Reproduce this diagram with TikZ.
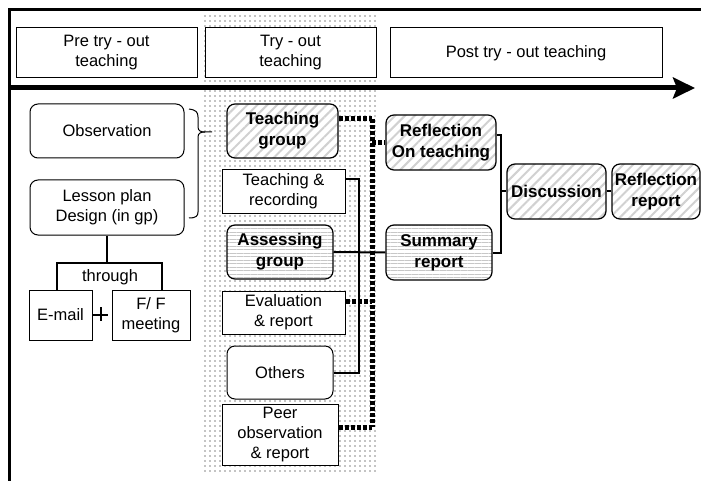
\documentclass[tikz,border=0pt]{standalone}
\usepackage{fontspec}
\setmainfont{Liberation Sans}
\usetikzlibrary{arrows.meta,patterns.meta}
\begin{document}
\begin{tikzpicture}[x=1pt,y=-1pt,
  every node/.style={font=\fontsize{16.5}{20}\selectfont},
  plainbox/.style={draw, line width=1pt, fill=white, inner sep=0pt, align=center},
  roundbox/.style={plainbox, rounded corners=8pt},
  boldtext/.style={font=\fontsize{17}{21}\selectfont\bfseries},
  diagbox/.style={roundbox, boldtext, line width=1.2pt,
    preaction={fill=white},
    pattern={Lines[angle=45,distance=7pt,line width=2pt]}, pattern color=black!18},
  horizbox/.style={roundbox, boldtext, line width=1.2pt,
    preaction={fill=white},
    pattern={Lines[angle=0,distance=3.5pt,line width=1pt]}, pattern color=black!22},
  conn/.style={line width=2pt},
  dotconn/.style={line width=5pt, dash pattern=on 4pt off 2pt},
]
\useasboundingbox (0,0) rectangle (701,481);

% dotted band behind the try-out stage
\fill[pattern={Dots[distance=5pt,radius=0.65pt]}, pattern color=black]
  (203,13) rectangle (378,474);

% outer frame
\draw[line width=3pt] (9,481) -- (9,10) -- (701,10);

% stage headers
\node[plainbox, minimum width=181, minimum height=50] (pre) at (106.5,53) {Pre try - out\\teaching};
\node[plainbox, minimum width=171, minimum height=50] (try) at (290.5,53) {Try - out\\teaching};
\node[plainbox, minimum width=272, minimum height=50] (post) at (526,53) {Post try - out teaching};

% time line
\coordinate (t0) at (9,88);
\coordinate (t1) at (695,88);
\draw[line width=5pt, -{Stealth[length=22pt,width=21pt,inset=4pt]}] (t0) -- (t1);

% pre try-out stage
\node[roundbox, minimum width=154, minimum height=54] (obs) at (107,131) {Observation};
\node[roundbox, minimum width=154, minimum height=55] (les) at (107,207.5) {Lesson plan\\Design (in gp)};
\node[plainbox, minimum width=63, minimum height=50] (email) at (60.5,315) {E-mail};
\node[plainbox, minimum width=78, minimum height=50] (ff) at (151,315) {F/ F\\meeting};
\node (thtxt) at (110,277) {through};

% brace grouping observation and lesson plan
\draw[line width=1pt] (189,109) .. controls (196,110) and (198,112) .. (198,117) -- (198,127)
  .. controls (198,131) and (201,132) .. (205,132) -- (212,132);
\draw[line width=1pt] (205,132) .. controls (201,132) and (198,133) .. (198,137) -- (198,212)
  .. controls (198,216) and (196,218) .. (189,218);

% "through" bracket
\coordinate (thl) at (57,263);
\coordinate (thr) at (162,263);
\draw[conn] (les.south) -- (les.south |- thl);
\draw[line width=2.5pt] (thl |- email.north) -- (thl) -- (thr) -- (thr |- ff.north);

% plus sign between e-mail and meeting
\coordinate (plus) at (101,314);
\draw[line width=2pt] (email.east) -- ++(15,0);
\draw[line width=2pt] ([yshift=7pt]plus) -- ([yshift=-7pt]plus);

% try-out stage
\node[diagbox, minimum width=111, minimum height=54] (tg) at (282.5,131) {Teaching\\group};
\node[plainbox, minimum width=123, minimum height=43] (tr) at (283.5,191.5) {Teaching \&\\recording};
\node[horizbox, minimum width=106, minimum height=54] (ag) at (280,252) {Assessing\\group};
\node[plainbox, minimum width=123, minimum height=43] (er) at (283.5,312.5) {Evaluation\\\& report};
\node[roundbox, minimum width=106, minimum height=53] (ot) at (280,372.5) {Others};
\node[plainbox, minimum width=116, minimum height=61] (po) at (280,434.5) {Peer\\observation\\\& report};

% post try-out stage
\node[diagbox, minimum width=110, minimum height=55] (rf) at (441,142.5) {Reflection\\On teaching};
\node[horizbox, minimum width=106, minimum height=55] (sr) at (439,252.5) {Summary\\report};
\node[diagbox, minimum width=99, minimum height=55] (dc) at (556.5,191.5) {Discussion};
\node[diagbox, minimum width=88, minimum height=55] (rr) at (656,191.5) {Reflection\\report};

% solid bracket: recording, evaluation, others
\coordinate (sb) at (359,372.5);
\draw[conn] ([yshift=12.5pt]tr.east) -| (sb) -- (ot.east);

% assessing group to summary report
\draw[conn] (ag.east) -- (sr.west);

% dotted feedback line
\coordinate (dt) at (372,119);
\coordinate (dr) at (372,142.5);
\coordinate (de) at (372,301);
\coordinate (db) at (372,427);
\draw[dotconn] (dt) -- (db);
\draw[dotconn] ([yshift=12pt]tg.east) -- (dt);
\draw[dotconn] (dr) -- (rf.west);
\draw[dotconn] ([yshift=11.5pt]er.east) -- (de);
\draw[dotconn] ([yshift=7.5pt]po.east) -- (db);

% post try-out bracket
\coordinate (rb) at (501,191.5);
\draw[conn] ([yshift=7.5pt]rf.east) -| (rb) |- (sr.east);
\draw[conn] (rb) -- (dc.west);
\draw[conn] (dc.east) -- (rr.west);
\end{tikzpicture}
\end{document}
